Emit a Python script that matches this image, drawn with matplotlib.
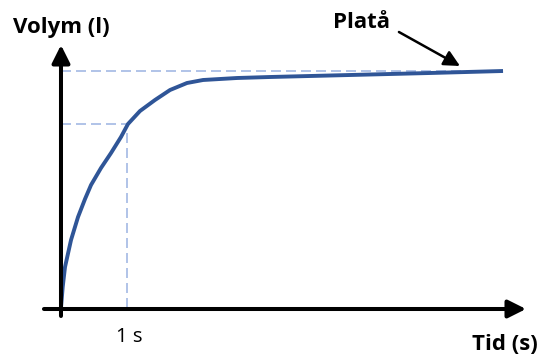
import matplotlib.pyplot as plt
import numpy as np

plt.rcParams['font.family'] = ['Open Sans', 'DejaVu Sans']

# volume curve (time in s, volume in l)
tid = [0, 0.026, 0.061, 0.152, 0.258, 0.364, 0.455, 0.606, 0.758, 0.909, 1.015,
       1.197, 1.424, 1.652, 1.909, 2.152, 2.667, 3.167, 4.379, 5.591, 6.697]
volym = [0, 0.42, 0.82, 1.36, 1.82, 2.18, 2.46, 2.80, 3.10, 3.42, 3.68,
         3.94, 4.16, 4.36, 4.50, 4.56, 4.60, 4.62, 4.66, 4.70, 4.74]

t_1s = 1.0
v_1s = 3.68
v_plata = 4.74

curve_color = '#2F5597'
guide_color = '#A3B9E4'

fig = plt.figure(figsize=(5.39, 3.54), dpi=100)
ax = fig.add_axes([0, 0, 1, 1])
ax.set_xlim(-0.924, 7.242)
ax.set_ylim(-0.92, 6.16)
ax.axis('off')

# dashed guide lines
ax.plot([0, tid[-1]], [v_plata, v_plata], color=guide_color, lw=1.2, dashes=(6, 3))
ax.plot([0, t_1s], [v_1s, v_1s], color=guide_color, lw=1.2, dashes=(6, 3))
ax.plot([t_1s, t_1s], [0, v_1s], color=guide_color, lw=1.2, dashes=(6, 3))

# axes with arrows
arrow = dict(arrowstyle='-|>,head_length=0.6,head_width=0.3', mutation_scale=18,
             lw=2.9, color='black', shrinkA=0, shrinkB=0)
ax.annotate('', xy=(7.045, -0.02), xytext=(-0.258, -0.02), arrowprops=arrow)
ax.annotate('', xy=(0, 5.26), xytext=(0, -0.16), arrowprops=arrow)

# curve
ax.plot(tid, volym, color=curve_color, lw=2.8, solid_capstyle='butt',
        solid_joinstyle='round')

# labels
ax.text(0.0, 5.6, 'Volym (l)', fontsize=16, fontweight='bold', ha='center', va='center')
ax.text(6.73, -0.72, 'Tid (s)', fontsize=16, fontweight='bold', ha='center', va='center')
ax.text(1.03, -0.58, '1 s', fontsize=14.5, ha='center', va='center')
ax.text(4.56, 5.7, 'Platå', fontsize=16, fontweight='bold', ha='center', va='center')
ax.annotate('', xy=(6.045, 4.84), xytext=(5.12, 5.52),
            arrowprops=dict(arrowstyle='-|>,head_length=0.6,head_width=0.3',
                            mutation_scale=16, lw=1.8, color='black',
                            shrinkA=0, shrinkB=0))

fig.savefig('out.png', dpi=100)
